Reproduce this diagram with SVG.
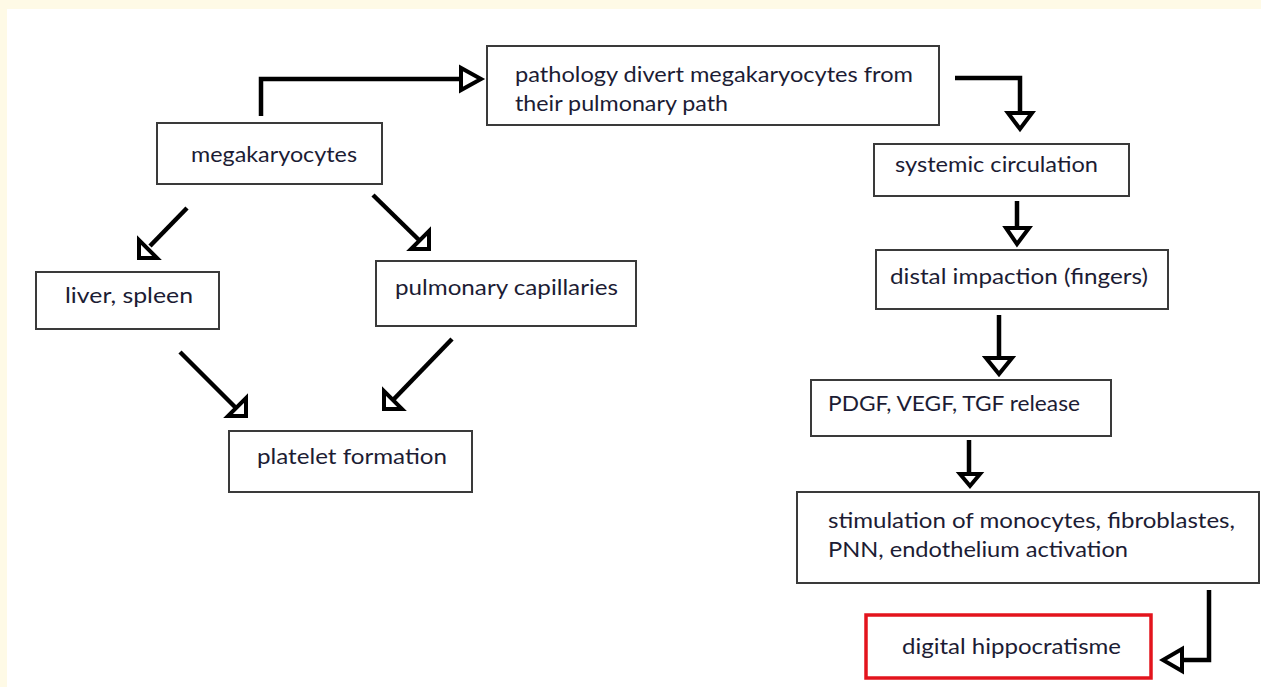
<svg xmlns="http://www.w3.org/2000/svg" width="1261" height="687" viewBox="0 0 1261 687">
<style>
.box{fill:#fff;stroke:#3a3a3a;stroke-width:2}
.red{fill:#fff;stroke:#e3141d;stroke-width:3.5}
.t{font-family:Lato,"Liberation Sans",sans-serif;font-size:22px;fill:#1c1c34}
.ln{fill:none;stroke:#000;stroke-width:4.5;stroke-linejoin:miter}
.ah{fill:#fff;stroke:#000;stroke-width:4;stroke-linejoin:miter}
</style>
<rect x="0" y="0" width="1261" height="687" fill="#fefae6"/>
<rect x="7" y="9" width="1254" height="678" fill="#fff"/>
<g id="connectors">
<polyline class="ln" points="261,116 261,79 461,79"/>
<polygon class="ah" points="461,68 461,90 481,79"/>
<polyline class="ln" points="955,78 1020,78 1020,113"/>
<polygon class="ah" points="1008,113 1032,113 1020,129"/>
<line class="ln" x1="1017" y1="201" x2="1017" y2="228"/>
<polygon class="ah" points="1006,228 1029,228 1017,244"/>
<line class="ln" x1="999" y1="315" x2="999" y2="358"/>
<polygon class="ah" points="986,358 1012,358 999,374"/>
<line class="ln" x1="969" y1="440" x2="969" y2="474"/>
<polygon class="ah" points="960,474 980,474 970,486"/>
<polyline class="ln" points="1209,590 1209,660 1182,660"/>
<polygon class="ah" points="1182,649 1182,671 1163,660"/>
<line class="ln" x1="187" y1="208" x2="150" y2="246"/>
<polygon class="ah" points="139,240 139,258 157,258"/>
<line class="ln" x1="373" y1="195" x2="419" y2="240"/>
<polygon class="ah" points="429,231 429,249 411,249"/>
<line class="ln" x1="180" y1="352" x2="235" y2="407"/>
<polygon class="ah" points="246,398 246,416 228,416"/>
<line class="ln" x1="452" y1="339" x2="394" y2="399"/>
<polygon class="ah" points="384,391 384,409 402,409"/>
</g>
<g id="n-mega"><rect class="box" x="157" y="123" width="225" height="61"/><text class="t" x="191" y="162" textLength="166" lengthAdjust="spacingAndGlyphs">megakaryocytes</text></g>
<g id="n-path"><rect class="box" x="487" y="46" width="452" height="79"/><text class="t" x="515" y="82" textLength="398" lengthAdjust="spacingAndGlyphs">pathology divert megakaryocytes from</text><text class="t" x="515" y="111" textLength="213" lengthAdjust="spacingAndGlyphs">their pulmonary path</text></g>
<g id="n-liver"><rect class="box" x="36" y="272" width="183" height="57"/><text class="t" x="65" y="303" textLength="128" lengthAdjust="spacingAndGlyphs">liver, spleen</text></g>
<g id="n-pulm"><rect class="box" x="376" y="261" width="260" height="65"/><text class="t" x="395" y="295" textLength="223" lengthAdjust="spacingAndGlyphs">pulmonary capillaries</text></g>
<g id="n-plat"><rect class="box" x="229" y="431" width="243" height="61"/><text class="t" x="257" y="464" textLength="190" lengthAdjust="spacingAndGlyphs">platelet formation</text></g>
<g id="n-sys"><rect class="box" x="874" y="144" width="255" height="52"/><text class="t" x="895" y="172" textLength="203" lengthAdjust="spacingAndGlyphs">systemic circulation</text></g>
<g id="n-distal"><rect class="box" x="876" y="250" width="292" height="59"/><text class="t" x="890" y="284" textLength="258" lengthAdjust="spacingAndGlyphs">distal impaction (fingers)</text></g>
<g id="n-pdgf"><rect class="box" x="811" y="380" width="300" height="56"/><text class="t" x="828" y="411" textLength="252" lengthAdjust="spacingAndGlyphs">PDGF, VEGF, TGF release</text></g>
<g id="n-stim"><rect class="box" x="797" y="492" width="462" height="91"/><text class="t" x="828" y="528" textLength="407" lengthAdjust="spacingAndGlyphs">stimulation of monocytes, fibroblastes,</text><text class="t" x="828" y="557" textLength="300" lengthAdjust="spacingAndGlyphs">PNN, endothelium activation</text></g>
<g id="n-digital"><rect class="red" x="866" y="615" width="285" height="63"/><text class="t" x="902" y="654" textLength="219" lengthAdjust="spacingAndGlyphs">digital hippocratisme</text></g>
</svg>
